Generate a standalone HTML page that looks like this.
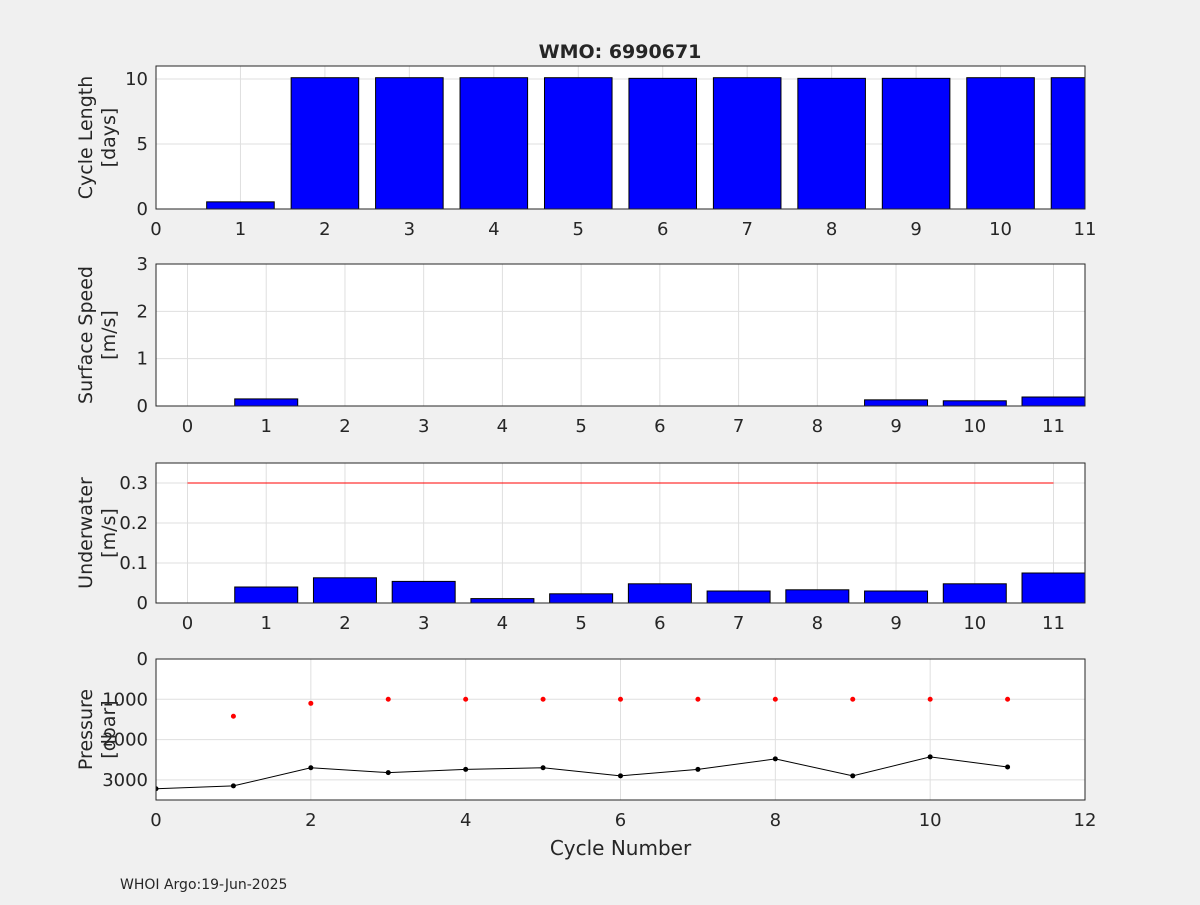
<!DOCTYPE html>
<html><head><meta charset="utf-8"><style>
body{margin:0;background:#f0f0f0;font-family:"Liberation Sans",sans-serif}
svg text{font-family:"DejaVu Sans","Liberation Sans",sans-serif;fill:#262626}
</style></head><body>
<svg id="fig" width="1200" height="900">
<rect width="1200" height="900" fill="#f0f0f0"/>
<text x="620" y="58" text-anchor="middle" font-size="19" font-weight="bold" fill="#000">WMO: 6990671</text>
<text x="120" y="889" font-size="14" fill="#000">WHOI Argo:19-Jun-2025</text>
</svg>
<script>
const cycles=[0,1,2,3,4,5,6,7,8,9,10,11];
const cycleLen=[0,0.55,10.1,10.1,10.1,10.1,10.05,10.1,10.05,10.05,10.1,10.1];
const surfSpeed=[0,0.15,0,0,0,0,0,0,0,0.13,0.11,0.19];
const underSpeed=[0,0.04,0.063,0.054,0.011,0.023,0.048,0.03,0.033,0.03,0.048,0.075];
const parkCycles=[1,2,3,4,5,6,7,8,9,10,11];
const parkP=[1420,1100,1000,1000,1000,1000,1000,1000,1000,1000,1000];
const profP=[3220,3150,2700,2820,2740,2700,2900,2740,2480,2900,2430,2680];
const speedLimit=0.3;
const NS="http://www.w3.org/2000/svg";
const svg=document.getElementById('fig');
function mk(t,a,p){const e=document.createElementNS(NS,t);for(const k in a)e.setAttribute(k,a[k]);(p||svg).appendChild(e);return e;}
const L=156,R=1085;
function panel(name,top,bot,xmin,xmax,xt,ymin,ymax,yt,ylab,rev,xlabel){
  const g=mk('g',{});
  
  
  const sx=v=>L+(v-xmin)/(xmax-xmin)*(R-L);
  const sy=rev?(v=>top+(v-ymin)/(ymax-ymin)*(bot-top)):(v=>bot-(v-ymin)/(ymax-ymin)*(bot-top));
  mk('rect',{x:L,y:top,width:R-L,height:bot-top,fill:'#fff'},g);
  xt.forEach(v=>{const x=sx(v);mk('line',{x1:x,x2:x,y1:top,y2:bot,stroke:'#dfdfdf'},g);
    const t=mk('text',{x:x,y:bot+26,'text-anchor':'middle','font-size':18},g);t.textContent=v;
    });
  yt.forEach(v=>{const y=sy(v);mk('line',{x1:L,x2:R,y1:y,y2:y,stroke:'#dfdfdf'},g);
    const t=mk('text',{x:L-8,y:y+6,'text-anchor':'end','font-size':18},g);t.textContent=v;
    });
  const cy=(top+bot)/2;
  const yl=mk('text',{transform:`translate(${L-62},${cy}) rotate(-90)`,'text-anchor':'middle','font-size':19},g);
  
  const a=mk('tspan',{x:0,dy:-2},yl);a.textContent=ylab[0];
  const b=mk('tspan',{x:0,dy:23},yl);b.textContent=ylab[1];
  if(xlabel){const t=mk('text',{x:(L+R)/2,y:bot+55,'text-anchor':'middle','font-size':20},g);t.textContent=xlabel;
    }
  const clip='c'+name;const cp=mk('clipPath',{id:clip},g);mk('rect',{x:L,y:top,width:R-L,height:bot-top},cp);
  const inner=mk('g',{'clip-path':`url(#${clip})`},g);
  return {g,inner,sx,sy,top,bot,frame:()=>mk('rect',{x:L,y:top,width:R-L,height:bot-top,fill:'none',stroke:'#262626'},g)};
}
function bars(p,vals,name){cycles.forEach((c,i)=>{const x0=p.sx(c-0.4),x1=p.sx(c+0.4),y=p.sy(vals[i]),y0=p.sy(0);
  const r=mk('rect',{x:x0,y:Math.min(y,y0),width:x1-x0,height:Math.abs(y0-y),fill:'#0000ff',stroke:'#000','stroke-width':1},p.inner);
  });}
const ct=[0,1,2,3,4,5,6,7,8,9,10,11];
let p1=panel('cycle-length-panel',66,209,0,11,ct,0,11,[0,5,10],['Cycle Length','[days]'],false);
bars(p1,cycleLen,'cycle-length-bar');p1.frame();
let p2=panel('surface-speed-panel',264,406,-0.4,11.4,ct,0,3,[0,1,2,3],['Surface Speed','[m/s]'],false);
bars(p2,surfSpeed,'surface-speed-bar');p2.frame();
let p3=panel('underwater-speed-panel',463,603,-0.4,11.4,ct,0,0.35,[0,0.1,0.2,0.3],['Underwater','[m/s]'],false);
bars(p3,underSpeed,'underwater-speed-bar');
const rl=mk('line',{x1:p3.sx(0),x2:p3.sx(11),y1:p3.sy(speedLimit),y2:p3.sy(speedLimit),stroke:'#ff0000','stroke-width':1},p3.inner);

p3.frame();
let p4=panel('pressure-panel',659,800,0,12,[0,2,4,6,8,10,12],0,3500,[0,1000,2000,3000],['Pressure','[dbar]'],true,'Cycle Number');
const pl=mk('polyline',{points:cycles.map((c,i)=>p4.sx(c)+','+p4.sy(profP[i])).join(' '),fill:'none',stroke:'#000','stroke-width':1},p4.inner);

cycles.forEach((c,i)=>{const d=mk('circle',{cx:p4.sx(c),cy:p4.sy(profP[i]),r:2.5,fill:'#000'},p4.inner);
  });
parkCycles.forEach((c,i)=>{const d=mk('circle',{cx:p4.sx(c),cy:p4.sy(parkP[i]),r:2.5,fill:'#ff0000'},p4.inner);
  });
p4.frame();
</script>
</body></html>
